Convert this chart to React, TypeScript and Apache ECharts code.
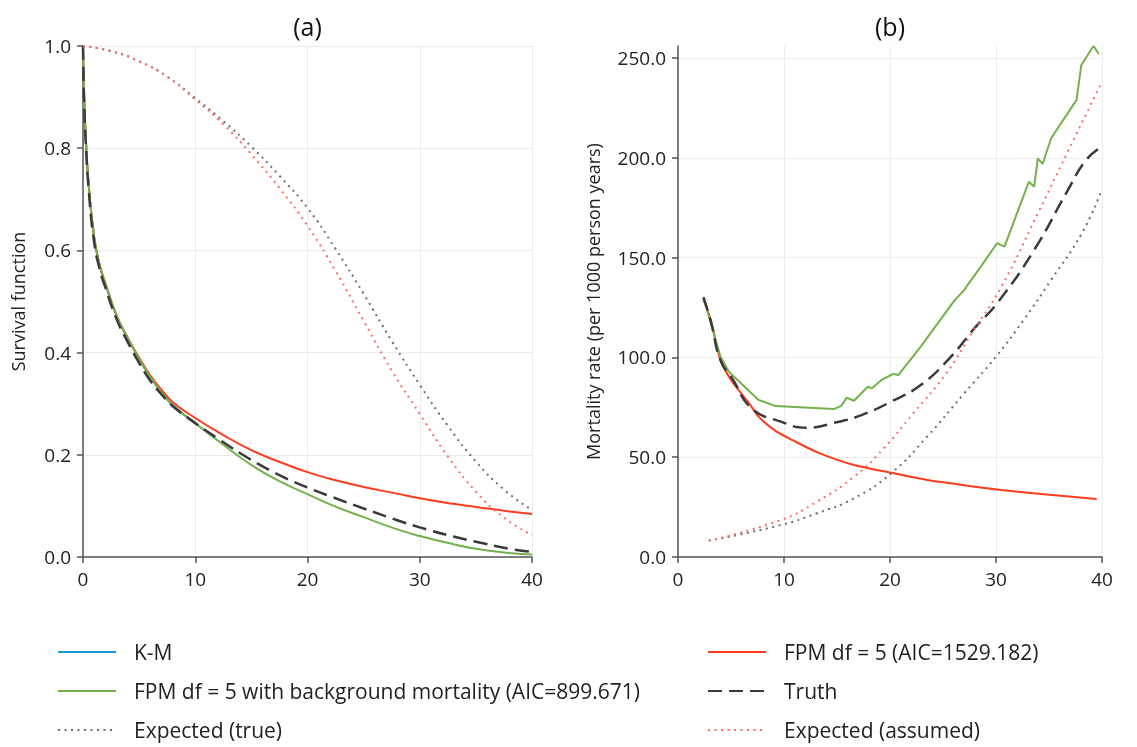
import React, { useEffect, useRef } from "react";
import * as echarts from "echarts";

// ---------- Panel (a): survival functions ----------
const tSurv = [0, 0.1, 0.25, 0.5, 1, 1.5, 2, 3, 4, 5, 6, 7, 8, 10, 12, 15, 18, 20, 22, 25, 28, 30, 33, 35, 38, 40];
const survFpm = [1, 0.9, 0.82, 0.73, 0.625, 0.57, 0.535, 0.472, 0.428, 0.39, 0.355, 0.327, 0.303, 0.272, 0.245, 0.209, 0.182, 0.166, 0.153, 0.137, 0.124, 0.115, 0.104, 0.098, 0.089, 0.084];
const survFpmBg = [1, 0.9, 0.82, 0.73, 0.625, 0.57, 0.535, 0.472, 0.428, 0.388, 0.352, 0.322, 0.297, 0.262, 0.228, 0.18, 0.143, 0.123, 0.103, 0.078, 0.054, 0.041, 0.025, 0.016, 0.008, 0.005];
const survTruth = [1, 0.89, 0.81, 0.72, 0.615, 0.562, 0.527, 0.465, 0.42, 0.38, 0.345, 0.318, 0.295, 0.262, 0.232, 0.19, 0.155, 0.136, 0.119, 0.095, 0.072, 0.058, 0.04, 0.03, 0.016, 0.01];
const tKm = [0, 0.1, 0.25, 0.5, 1, 1.5, 2, 3, 4, 5, 6, 7, 8, 10];
const survKm = [1, 0.9, 0.82, 0.73, 0.625, 0.57, 0.535, 0.472, 0.428, 0.388, 0.352, 0.322, 0.297, 0.262];
const tExp = [0, 2.5, 5, 7.5, 10, 12.5, 15, 17.5, 20, 22.5, 25, 27.5, 30, 32.5, 35, 37.5, 40];
const survExpTrue = [1, 0.99, 0.97, 0.94, 0.898, 0.853, 0.803, 0.746, 0.683, 0.603, 0.515, 0.423, 0.337, 0.257, 0.187, 0.132, 0.092];
const survExpAssumed = [1, 0.99, 0.97, 0.94, 0.895, 0.847, 0.788, 0.722, 0.648, 0.56, 0.462, 0.365, 0.28, 0.197, 0.128, 0.077, 0.043];

// ---------- Panel (b): mortality rates (per 1000 person years) ----------
const tRateFpm = [2.4, 3.1, 4, 5, 6.7, 7.6, 9.3, 11, 13.2, 16.6, 20.1, 23.5, 27, 30.5, 35, 39.5];
const rateFpm = [129, 118.7, 98.7, 88.7, 77, 70.3, 62.8, 58, 52.3, 46.1, 42.2, 38.6, 36, 33.6, 31.2, 29.1];
const tRateBg = [2.4, 3.1, 4, 4.8, 7.6, 9.2, 14.7, 15.4, 15.9, 16.6, 17.9, 18.3, 19.2, 20.3, 20.8, 22.9, 26, 27, 28.5, 30.1, 30.8, 33.1, 33.6, 33.95, 34.4, 35.2, 37.6, 38.05, 39.2, 39.7];
const rateBg = [130.4, 117, 100.4, 92.8, 78.7, 75.6, 74.1, 75.7, 79.8, 78.3, 85.3, 84.5, 88.7, 91.7, 91.2, 105.4, 127.9, 133.8, 145, 157.2, 155.5, 188, 185.5, 199.7, 196.9, 209.8, 229, 246.5, 256, 252];
const tRateTruth = [2.4, 3.1, 4, 5.2, 6.95, 9.7, 12.1, 15.2, 17.3, 20.1, 22.9, 25.6, 28.1, 30.1, 33.6, 36.7, 38.5, 40];
const rateTruth = [130, 118, 98.7, 88.7, 74.5, 67.8, 64.8, 67.8, 71.1, 77.8, 86.2, 99.5, 115.4, 127.1, 153.8, 183, 198.9, 205.6];
const tRateExp = [2.9, 9.7, 13.1, 16.6, 20.1, 23.5, 27, 30, 32.6, 35.2, 38.1, 39.85];
const rateExpTrue = [8.2, 16, 21.9, 29.4, 41.9, 60.3, 82, 100.4, 118.7, 138.8, 162.2, 182.2];
const tRateExpA = [2.9, 9.7, 13.1, 16.6, 19.4, 22.2, 25.3, 27.7, 30.5, 33.95, 36.7, 39.85];
const rateExpAssumed = [8.2, 18.5, 27.7, 40.2, 54.4, 72, 92, 112, 135.4, 172.2, 202.3, 236.5];

const xTicks = { min: 0, max: 40, interval: 10 };

const NAME_KM = "K-M";
const NAME_FPM = "FPM df = 5 (AIC=1529.182)";
const NAME_BG = "FPM df = 5 with background mortality (AIC=899.671)";
const NAME_TRUTH = "Truth";
const NAME_EXP_TRUE = "Expected (true)";
const NAME_EXP_ASSUMED = "Expected (assumed)";

const C_BLUE = "#1a9ad6";
const C_RED = "#ff3b1c";
const C_GREEN = "#74b14c";
const C_DARK = "#3a3a3a";
const C_GREY = "#6f6f6f";
const C_PINK = "#ff6b6b";

const zip = (xs: number[], ys: number[]) => xs.map((x, i) => [x, ys[i]]);

const FONT = "Open Sans";

function axisCommon() {
  return {
    axisLine: { show: true, onZero: false, lineStyle: { color: "#555", width: 1.5 } },
    axisTick: { show: true, length: 6, lineStyle: { color: "#555", width: 1.5 } },
    axisLabel: { fontSize: 19, color: "#222", margin: 12, fontFamily: FONT },
    splitLine: { show: true, lineStyle: { color: "#ebebeb", width: 1 } },
  };
}

function lineSeries(name: string, data: number[][], axis: number, color: string, type: any, width: number, smooth: any) {
  return {
    name,
    type: "line",
    xAxisIndex: axis,
    yAxisIndex: axis,
    data,
    symbol: "none",
    showSymbol: false,
    smooth,
    lineStyle: { color, width, type },
    itemStyle: { color },
  };
}

function legendCol(left: number, data: string[]) {
  return {
    left, top: 640, height: 105, padding: 0, orient: "vertical",
    itemWidth: 58, itemHeight: 14, itemGap: 15,
    itemStyle: { opacity: 0 },
    data,
    textStyle: { fontSize: 21, color: "#222", lineHeight: 24, padding: [0, 0, 0, 13], fontFamily: FONT },
  };
}

export default function App() {
  const ref = useRef<HTMLDivElement>(null);

  useEffect(() => {
    if (!ref.current) return;
    const chart = echarts.init(ref.current, null, { renderer: "svg" });
    const dashed = [14, 7];
    const dotted = [2, 4.5];
    const option: any = {
      animation: false,
      textStyle: { fontFamily: FONT },
      graphic: [
        { type: "text", x: 307.5, y: 26, style: { text: "(a)", font: `25px "${FONT}"`, fill: "#111", textAlign: "center", textVerticalAlign: "middle" } },
        { type: "text", x: 890, y: 26, style: { text: "(b)", font: `25px "${FONT}"`, fill: "#111", textAlign: "center", textVerticalAlign: "middle" } },
      ],
      grid: [
        { left: 83, top: 46, width: 449, height: 511 },
        { left: 678, top: 46, width: 424, height: 511 },
      ],
      xAxis: [
        { type: "value", gridIndex: 0, ...xTicks, ...axisCommon() },
        { type: "value", gridIndex: 1, ...xTicks, ...axisCommon() },
      ],
      yAxis: [
        {
          type: "value", gridIndex: 0, min: 0, max: 1, interval: 0.2,
          ...axisCommon(),
          axisLabel: { ...axisCommon().axisLabel, formatter: (v: number) => v.toFixed(1) },
          name: "Survival function", nameLocation: "middle", nameGap: 56,
          nameTextStyle: { fontSize: 18, color: "#222", fontFamily: FONT },
        },
        {
          type: "value", gridIndex: 1, min: 0, max: 256, interval: 50,
          ...axisCommon(),
          axisLabel: { ...axisCommon().axisLabel, showMaxLabel: false, formatter: (v: number) => v.toFixed(1) },
          splitLine: { show: true, showMaxLine: false, lineStyle: { color: "#ebebeb", width: 1 } },
          name: "Mortality rate (per 1000 person years)", nameLocation: "middle", nameGap: 76,
          nameTextStyle: { fontSize: 18, color: "#222", fontFamily: FONT },
        },
      ],
      legend: [
        legendCol(57, [NAME_KM, NAME_BG, NAME_EXP_TRUE]),
        legendCol(707, [NAME_FPM, NAME_TRUTH, NAME_EXP_ASSUMED]),
      ],
      series: [
        lineSeries(NAME_KM, zip(tKm, survKm), 0, C_BLUE, "solid", 2, 0.5),
        lineSeries(NAME_FPM, zip(tSurv, survFpm), 0, C_RED, "solid", 2, 0.5),
        lineSeries(NAME_BG, zip(tSurv, survFpmBg), 0, C_GREEN, "solid", 2, 0.5),
        lineSeries(NAME_TRUTH, zip(tSurv, survTruth), 0, C_DARK, dashed, 2.5, 0.5),
        lineSeries(NAME_EXP_TRUE, zip(tExp, survExpTrue), 0, C_GREY, dotted, 2, 0.5),
        lineSeries(NAME_EXP_ASSUMED, zip(tExp, survExpAssumed), 0, C_PINK, dotted, 2, 0.5),

        lineSeries(NAME_FPM, zip(tRateFpm, rateFpm), 1, C_RED, "solid", 2, 0.2),
        lineSeries(NAME_BG, zip(tRateBg, rateBg), 1, C_GREEN, "solid", 2, false),
        lineSeries(NAME_TRUTH, zip(tRateTruth, rateTruth), 1, C_DARK, dashed, 2.5, 0.5),
        lineSeries(NAME_EXP_TRUE, zip(tRateExp, rateExpTrue), 1, C_GREY, dotted, 2, 0.5),
        lineSeries(NAME_EXP_ASSUMED, zip(tRateExpA, rateExpAssumed), 1, C_PINK, dotted, 2, 0.5),
      ],
    };
    chart.setOption(option);
    return () => chart.dispose();
  }, []);

  return <div ref={ref} style={{ position: "fixed", left: 0, top: 0, width: 1137, height: 747 }} />;
}
